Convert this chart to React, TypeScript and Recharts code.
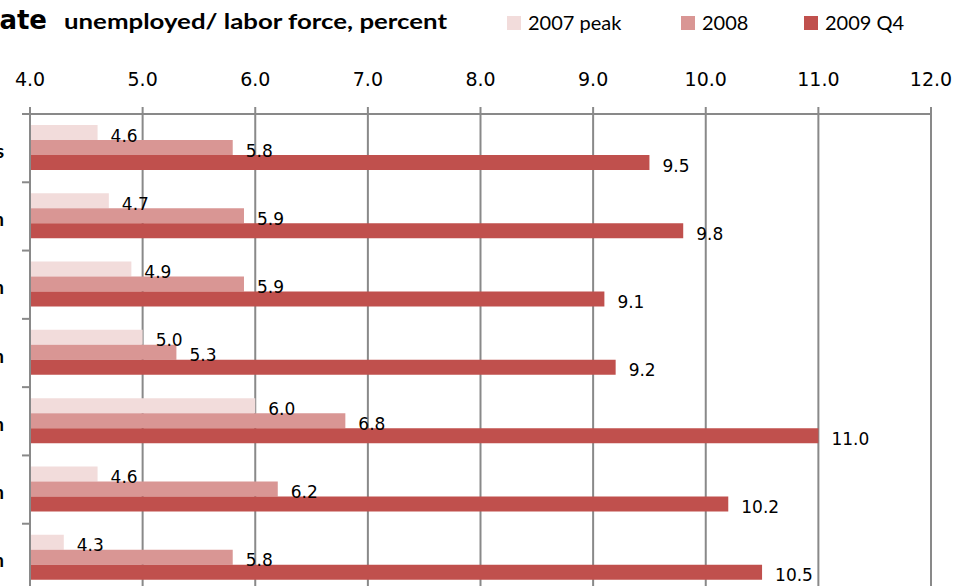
import React from "react";
import { BarChart, Bar, XAxis, YAxis, CartesianGrid, LabelList } from "recharts";

const categories = [
  "United States",
  "Great Lakes region",
  "Mideast region",
  "New England region",
  "Far West region",
  "Southeast region",
  "Plains region",
];
const peak2007 = [4.6, 4.7, 4.9, 5.0, 6.0, 4.6, 4.3];
const y2008 = [5.8, 5.9, 5.9, 5.3, 6.8, 6.2, 5.8];
const q4_2009 = [9.5, 9.8, 9.1, 9.2, 11.0, 10.2, 10.5];
const xTicks = [4, 5, 6, 7, 8, 9, 10, 11, 12];

const seriesNames = ["2007 peak", "2008", "2009 Q4"];
const colors = ["#F2DCDB", "#D99694", "#C0504D"];

const data = categories.map((c, i) => ({
  name: c,
  p2007: peak2007[i],
  p2008: y2008[i],
  p2009: q4_2009[i],
}));

const W = 964;
const H = 592;
const TOP = 114;
const LEFT = 30;
const RIGHT_M = 33;
const BAND = (H - TOP) / categories.length;
const GRAY = "#898989";
const NUM_FONT = "DejaVu Sans, Verdana, sans-serif";
const TXT_FONT = "Lato, 'Open Sans', sans-serif";

const YTick = (props: any) => {
  const { y, payload } = props;
  const top = y - BAND / 2;
  return (
    <g>
      <line x1={LEFT - 8} x2={LEFT} y1={top} y2={top} stroke={GRAY} strokeWidth={2} />
      <text
        x={4}
        y={y + 2}
        textAnchor="end"
        dominantBaseline="central"
        fontFamily={TXT_FONT}
        fontWeight={700}
        fontSize={19}
        fill="#000"
      >
        {payload.value}
      </text>
    </g>
  );
};

const barLabel = (props: any) => {
  const { x, y, width, height, value } = props;
  return (
    <text
      x={x + width + 13}
      y={y + height / 2 + 3}
      dominantBaseline="central"
      fontFamily={NUM_FONT}
      fontSize={17}
      fill="#000"
    >
      {Number(value).toFixed(1)}
    </text>
  );
};

const legendPos = [507, 681, 804];

export default function App() {
  return (
    <div style={{ position: "absolute", left: 0, top: 0, width: W, height: 586, overflow: "hidden", background: "#fff" }}>
      <svg width={W} height={40} style={{ position: "absolute", left: 0, top: 0 }}>
        <text x={47} y={29} textAnchor="end" fontFamily={NUM_FONT} fontWeight={700} fontSize={26} fill="#000">
          Unemployment rate
        </text>
        <text
          x={64}
          y={29}
          fontFamily={TXT_FONT}
          fontWeight={700}
          fontSize={21}
          fill="#000"
          textLength={383}
          lengthAdjust="spacingAndGlyphs"
        >
          unemployed/ labor force, percent
        </text>
        {seriesNames.map((n, i) => (
          <g key={n}>
            <rect x={legendPos[i]} y={16} width={14} height={14} fill={colors[i]} />
            <text x={legendPos[i] + 21} y={30} fontFamily={TXT_FONT} fontSize={20} fill="#000">
              {n}
            </text>
          </g>
        ))}
      </svg>
      <div style={{ position: "absolute", left: 0, top: 0 }}>
        <BarChart
          width={W}
          height={H}
          data={data}
          layout="vertical"
          margin={{ top: 0, right: RIGHT_M, bottom: 0, left: 0 }}
          barCategoryGap={11}
          barGap={0}
        >
          <CartesianGrid horizontal={false} vertical stroke={GRAY} strokeWidth={2} />
          <XAxis
            type="number"
            orientation="top"
            domain={[4, 12]}
            ticks={xTicks}
            interval={0}
            height={TOP}
            stroke={GRAY}
            strokeWidth={2}
            tickSize={7}
            tickMargin={21}
            tick={{ fontFamily: NUM_FONT, fontSize: 19, fill: "#000" }}
            tickFormatter={(v: number) => v.toFixed(1)}
            allowDataOverflow
          />
          <YAxis
            type="category"
            dataKey="name"
            width={LEFT}
            stroke={GRAY}
            strokeWidth={2}
            tickLine={false}
            tick={<YTick />}
            interval={0}
          />
          <Bar dataKey="p2007" name={seriesNames[0]} fill={colors[0]} isAnimationActive={false}>
            <LabelList dataKey="p2007" content={barLabel} />
          </Bar>
          <Bar dataKey="p2008" name={seriesNames[1]} fill={colors[1]} isAnimationActive={false}>
            <LabelList dataKey="p2008" content={barLabel} />
          </Bar>
          <Bar dataKey="p2009" name={seriesNames[2]} fill={colors[2]} isAnimationActive={false}>
            <LabelList dataKey="p2009" content={barLabel} />
          </Bar>
        </BarChart>
      </div>
    </div>
  );
}
